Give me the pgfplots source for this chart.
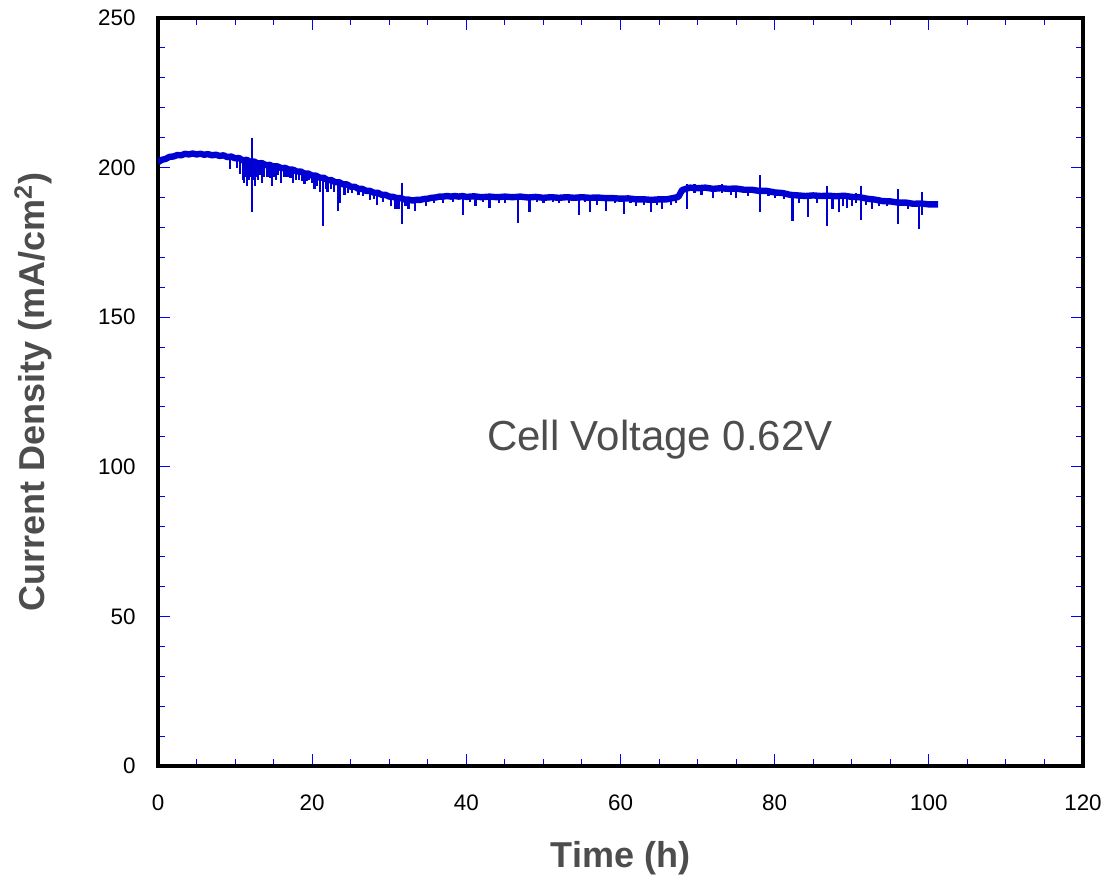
\documentclass[border=0pt]{standalone}
\usepackage{fontspec}
\setmainfont{Liberation Sans}
\usepackage{pgfplots}
\pgfplotsset{compat=1.18}
\definecolor{labelgray}{RGB}{77,77,77}
\definecolor{curveblue}{RGB}{0,0,210}
\begin{document}
\begin{tikzpicture}
\begin{axis}[
    name=ax,
    scale only axis,
    width=462.5pt, height=374pt,
    xmin=0, xmax=120, ymin=0, ymax=250,
    xtick distance=20, ytick distance=50,
    minor x tick num=3, minor y tick num=4,
    tick align=inside,
    major tick length=6pt, minor tick length=3.3pt,
    tick style={blue, line width=0.5pt},
    axis line style={line width=2pt, black},
    /pgf/number format/assume math mode=true,
    ticklabel style={font=\fontsize{11.2}{13}\selectfont, black},
    xticklabel style={yshift=-11pt},
    yticklabel style={xshift=-7.7pt},
    xlabel={\bfseries Time (h)},
    ylabel={\bfseries Current Density (mA/cm\textsuperscript{2})},
    label style={font=\fontsize{18}{20}\selectfont, text=labelgray},
    xlabel style={at={(axis description cs:0.5,-0.123)}, anchor=center},
    ylabel style={at={(axis description cs:-0.135,0.5)}, anchor=center},
    unbounded coords=jump,
]
% main trace
\addplot[curveblue, line width=3.2pt, line join=round] coordinates {
(0,201.8) (0.5,202.6) (1,202.9) (1.5,203.6) (2,203.7) (2.5,204.2) (3,204.1) (3.5,204.6)
(4,204.4) (4.5,204.7) (5,204.4) (5.5,204.6) (6,204.3) (6.5,204.5) (7,204.1) (7.5,204.3)
(8,203.9) (8.5,204.1) (9,203.5) (9.5,203.7) (10,203.1) (10.5,203.2) (11,202.4) (11.5,202.6)
(12,201.9) (12.5,202.0) (13,201.3) (13.5,201.5) (14,200.8) (14.5,200.9) (15,200.3) (15.5,200.4)
(16,199.8) (16.5,199.9) (17,199.3) (17.5,199.3) (18,198.7) (18.5,198.7) (19,198.0) (19.5,198.0)
(20,197.3) (20.5,197.3) (21,196.6) (21.5,196.6) (22,195.8) (22.5,195.8) (23,195.1) (23.5,195.1)
(24,194.4) (24.5,194.4) (25,193.6) (25.5,193.6) (26,192.9) (26.5,192.9) (27,192.2) (27.5,192.2)
(28,191.6) (28.5,191.6) (29,190.9) (29.5,190.9) (30,190.3) (30.5,190.2) (31,189.8) (31.5,189.8)
(32,189.3) (32.5,189.3) (33,189.0) (33.5,189.2) (34,189.2) (34.5,189.5) (35,189.6) (35.5,189.9)
(36,190.0) (36.5,190.3) (37,190.3) (37.5,190.5) (38,190.3) (38.5,190.5) (39,190.3) (39.5,190.5)
(40,190.2) (41,190.4) (42,190.1) (43,190.3) (44,190.1) (45,190.3) (46,190.1) (47,190.3)
(48,190.0) (49,190.2) (50,189.9) (51,190.1) (52,189.9) (53,190.1) (54,189.9) (55,190.1)
(56,189.9) (57,190.0) (58,189.8) (59,189.8) (60,189.6) (61,189.7) (62,189.4) (63,189.4)
(64,189.2) (65,189.4) (66,189.4) (67,189.9) (67.5,190.2) (68,192.5) (68.5,192.9) (69,193.3)
(70,193.1) (71,193.3) (72,192.9) (73,193.1) (74,192.9) (75,193.0) (76,192.6) (77,192.6)
(78,192.2) (79,192.2) (80,191.7) (81,191.5) (82,190.9) (83,190.7) (84,190.5) (85,190.7)
(86,190.5) (87,190.6) (88,190.4) (89,190.6) (90,190.2) (91,190.1) (92,189.6) (93,189.3)
(94,188.8) (95,188.7) (96,188.3) (97,188.3) (98,187.9) (99,188.0) (100,187.7) (101.2,187.7)
};
% spikes: top, bottom, break
\addplot[curveblue, line width=1.1pt] coordinates {
(9.3,204) (9.3,199.5) (9.3,nan)   (10.2,204) (10.2,200) (10.2,nan)
(10.6,204) (10.6,198) (10.6,nan)  (11.0,203.5) (11.0,196) (11.0,nan)
(11.2,203.5) (11.2,195) (11.2,nan) (11.4,203.5) (11.4,197) (11.4,nan)
(11.5,203.5) (11.5,194) (11.5,nan) (11.8,203) (11.8,196) (11.8,nan)
(12.0,203) (12.0,197) (12.0,nan)  (12.2,210) (12.2,185) (12.2,nan)
(12.4,203) (12.4,196) (12.4,nan)  (12.6,203) (12.6,194) (12.6,nan)
(12.8,202.5) (12.8,197) (12.8,nan) (13.0,202.5) (13.0,196) (13.0,nan)
(13.3,202.5) (13.3,197.5) (13.3,nan) (13.5,202.5) (13.5,195) (13.5,nan)
(13.8,202) (13.8,197) (13.8,nan)  (14.2,202) (14.2,197) (14.2,nan)
(14.5,202) (14.5,196.5) (14.5,nan) (14.8,201.5) (14.8,194) (14.8,nan)
(15.1,201.5) (15.1,197) (15.1,nan) (15.3,201.5) (15.3,196) (15.3,nan)
(15.6,201) (15.6,197.5) (15.6,nan) (16.0,201) (16.0,195) (16.0,nan)
(16.4,200.5) (16.4,197) (16.4,nan) (16.8,200.5) (16.8,197) (16.8,nan)
(17.2,200) (17.2,196.5) (17.2,nan) (17.5,200) (17.5,195) (17.5,nan)
(17.9,199.5) (17.9,196) (17.9,nan) (18.3,199.5) (18.3,196) (18.3,nan)
(18.7,199) (18.7,195.5) (18.7,nan) (19.0,199) (19.0,194.5) (19.0,nan)
(19.3,198.5) (19.3,195.5) (19.3,nan) (19.6,198.5) (19.6,196) (19.6,nan)
(20.0,198) (20.0,195) (20.0,nan)  (20.3,198) (20.3,193) (20.3,nan)
(20.6,197.5) (20.6,194) (20.6,nan) (21.0,197.5) (21.0,192) (21.0,nan)
(21.4,197) (21.4,180.5) (21.4,nan) (21.8,197) (21.8,193) (21.8,nan)
(22.0,196.5) (22.0,192) (22.0,nan) (22.4,196.5) (22.4,193) (22.4,nan)
(22.8,196) (22.8,192) (22.8,nan)  (23.3,196) (23.3,185.5) (23.3,nan)
(23.6,195.5) (23.6,188) (23.6,nan) (24.2,195) (24.2,191) (24.2,nan)
(24.7,195) (24.7,191.5) (24.7,nan) (25.2,194.5) (25.2,191.5) (25.2,nan)
(26.0,193.5) (26.0,191) (26.0,nan) (26.6,193) (26.6,190.5) (26.6,nan)
(27.5,192.5) (27.5,189) (27.5,nan) (28.0,192) (28.0,189.5) (28.0,nan)
(28.4,192) (28.4,187.5) (28.4,nan) (29.2,191.5) (29.2,188.5) (29.2,nan)
(30.2,191) (30.2,187) (30.2,nan)  (30.8,190.5) (30.8,186) (30.8,nan)
(31.2,190.5) (31.2,186) (31.2,nan) (31.7,195) (31.7,181) (31.7,nan)
(32.1,190) (32.1,187) (32.1,nan)  (32.5,190) (32.5,186) (32.5,nan)
(33.3,190) (33.3,185.5) (33.3,nan) (34.8,190) (34.8,187) (34.8,nan)
(35.8,190.5) (35.8,188) (35.8,nan) (37.0,191) (37.0,188) (37.0,nan)
(38.3,191) (38.3,188.5) (38.3,nan) (39.6,191) (39.6,184) (39.6,nan)
(40.5,191) (40.5,188.5) (40.5,nan) (41.2,191) (41.2,187) (41.2,nan)
(42.2,191) (42.2,188.5) (42.2,nan) (43.0,191) (43.0,186.5) (43.0,nan)
(44.2,191) (44.2,188) (44.2,nan)  (45.0,191) (45.0,188) (45.0,nan)
(46.7,191) (46.7,181.5) (46.7,nan) (48.2,191) (48.2,185) (48.2,nan)
(49.2,191) (49.2,188.5) (49.2,nan) (50.0,190.5) (50.0,188) (50.0,nan)
(51.2,190.5) (51.2,188.5) (51.2,nan) (52.0,190.5) (52.0,188) (52.0,nan)
(53.3,190.5) (53.3,188) (53.3,nan) (54.6,190.5) (54.6,184) (54.6,nan)
(55.4,190.5) (55.4,188.5) (55.4,nan) (56.0,190.5) (56.0,185) (56.0,nan)
(57.0,190.5) (57.0,187.5) (57.0,nan) (58.1,190.5) (58.1,185.5) (58.1,nan)
(59.3,190) (59.3,188) (59.3,nan)  (60.5,190) (60.5,184.5) (60.5,nan)
(61.3,190) (61.3,188) (61.3,nan)  (62.0,190) (62.0,187) (62.0,nan)
(63.0,190) (63.0,187.5) (63.0,nan) (64.0,190) (64.0,185) (64.0,nan)
(64.7,190) (64.7,187.5) (64.7,nan) (65.4,190) (65.4,186) (65.4,nan)
(66.5,190) (66.5,187.5) (66.5,nan) (67.2,190.5) (67.2,188) (67.2,nan)
(68.6,194.5) (68.6,186) (68.6,nan) (69.6,194.5) (69.6,191.5) (69.6,nan)
(70.5,193.5) (70.5,191) (70.5,nan) (72.0,193.5) (72.0,190) (72.0,nan)
(73.2,194.5) (73.2,191.5) (73.2,nan) (74.3,194) (74.3,191) (74.3,nan)
(75.0,193.5) (75.0,190) (75.0,nan) (76.5,193) (76.5,190.5) (76.5,nan)
(78.1,197.5) (78.1,185) (78.1,nan) (79.2,193) (79.2,190.5) (79.2,nan)
(80.0,192.5) (80.0,190) (80.0,nan) (81.2,192.5) (81.2,189.5) (81.2,nan)
(82.3,191.5) (82.3,182) (82.3,nan) (83.2,191.5) (83.2,188) (83.2,nan)
(84.3,191) (84.3,183.5) (84.3,nan) (85.5,191) (85.5,188) (85.5,nan)
(86.8,194) (86.8,180.5) (86.8,nan) (87.5,191) (87.5,186) (87.5,nan)
(88.3,191) (88.3,185) (88.3,nan)  (88.9,191) (88.9,187) (88.9,nan)
(89.4,191) (89.4,186.5) (89.4,nan) (90.0,190.5) (90.0,187) (90.0,nan)
(90.6,191.5) (90.6,188) (90.6,nan) (91.2,194) (91.2,182.5) (91.2,nan)
(91.8,190.5) (91.8,187.5) (91.8,nan) (92.6,190) (92.6,186) (92.6,nan)
(93.5,189.5) (93.5,187) (93.5,nan) (94.6,189.5) (94.6,187) (94.6,nan)
(96.0,193) (96.0,181) (96.0,nan)  (97.3,189) (97.3,186) (97.3,nan)
(98.7,188.5) (98.7,179.5) (98.7,nan) (99.1,192) (99.1,184) (99.1,nan)
};
\node[font=\fontsize{21}{24}\selectfont, text=labelgray] at (axis cs:65.1,109) {Cell Voltage 0.62V};
\end{axis}
\pgfresetboundingbox
\path[use as bounding box] ([shift={(-79pt,-57pt)}]ax.south west) rectangle ([shift={(12pt,9pt)}]ax.north east);
\end{tikzpicture}
\end{document}
